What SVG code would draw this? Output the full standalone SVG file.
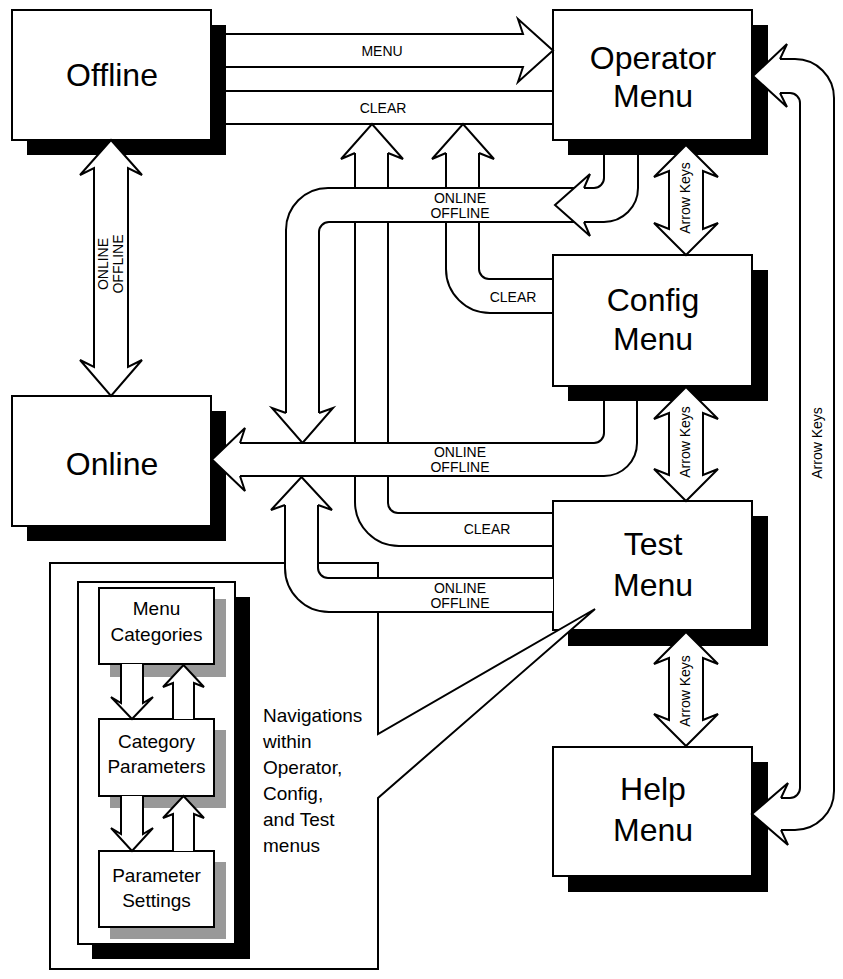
<svg xmlns="http://www.w3.org/2000/svg" width="843" height="979" viewBox="0 0 843 979">
<style>
.bx{fill:#fff;stroke:#000;stroke-width:2}
.sh{fill:#000}
.gs{fill:#999}
.ln{fill:none;stroke:#000;stroke-width:2}
.wf{fill:#fff;stroke:none}
.hd{fill:#fff;stroke:#000;stroke-width:2;stroke-linejoin:miter}
.big{font-family:"Liberation Sans",Arial,sans-serif;font-size:32px;text-anchor:middle;fill:#000}
.mid{font-family:"Liberation Sans",Arial,sans-serif;font-size:19px;text-anchor:middle;fill:#000}
.nav{font-family:"Liberation Sans",Arial,sans-serif;font-size:19px;fill:#000}
.lb{font-family:"Liberation Sans",Arial,sans-serif;font-size:14px;text-anchor:middle;fill:#000}
</style>
<rect width="843" height="979" fill="#fff"/>

<g id="offline">
<rect class="sh" x="27" y="25" width="199" height="130"/>
<rect class="bx" x="12" y="10" width="199" height="130"/>
<text class="big" x="112" y="86">Offline</text>
</g>
<g id="online">
<rect class="sh" x="27" y="411" width="199" height="130"/>
<rect class="bx" x="12" y="396" width="199" height="130"/>
<text class="big" x="112" y="475">Online</text>
</g>
<g id="operator">
<rect class="sh" x="568" y="25" width="200" height="130"/>
<rect class="bx" x="553" y="10" width="199" height="130"/>
<text class="big" x="653" y="69">Operator</text>
<text class="big" x="653" y="107">Menu</text>
</g>
<g id="config">
<rect class="sh" x="568" y="270" width="200" height="131"/>
<rect class="bx" x="553" y="255" width="199" height="131"/>
<text class="big" x="653" y="311">Config</text>
<text class="big" x="653" y="350">Menu</text>
</g>
<g id="test">
<rect class="sh" x="568" y="516" width="200" height="130"/>
<rect class="bx" x="553" y="501" width="199" height="129"/>
<text class="big" x="653" y="555">Test</text>
<text class="big" x="653" y="596">Menu</text>
</g>
<g id="help">
<rect class="sh" x="568" y="762" width="200" height="130"/>
<rect class="bx" x="553" y="747" width="199" height="129"/>
<text class="big" x="653" y="800">Help</text>
<text class="big" x="653" y="841">Menu</text>
</g>

<g id="inset">
<path class="bx" d="M50,563 H378 V734 L595,609 L378,798 V969 H50 Z"/>
<rect class="sh" x="92" y="597" width="158" height="362"/>
<rect class="bx" x="78" y="582" width="157" height="362"/>
<g id="menu-categories">
<rect class="gs" x="110" y="599" width="116" height="78"/>
<rect class="bx" x="99" y="588" width="115" height="76"/>
<text class="mid" x="156.5" y="615">Menu</text>
<text class="mid" x="156.5" y="641">Categories</text>
</g>
<g id="category-parameters">
<rect class="gs" x="110" y="730" width="116" height="78"/>
<rect class="bx" x="99" y="719" width="115" height="77"/>
<text class="mid" x="156.5" y="748">Category</text>
<text class="mid" x="156.5" y="773">Parameters</text>
</g>
<g id="parameter-settings">
<rect class="gs" x="110" y="862" width="116" height="77"/>
<rect class="bx" x="99" y="851" width="115" height="76"/>
<text class="mid" x="156.5" y="882">Parameter</text>
<text class="mid" x="156.5" y="907">Settings</text>
</g>
<g id="inset-arrows">
<path class="hd" d="M121,664 V703 L111,697 L132,719 L153,697 L143,703 V664"/>
<path class="hd" d="M173,719 V683 L163,687 L183.5,665 L204,687 L194,683 V719"/>
<path class="hd" d="M121,796 V834 L111,828 L132,851 L153,828 L143,834 V796"/>
<path class="hd" d="M173,851 V814 L163,818 L183.5,796 L204,818 L194,814 V851"/>
</g>
<text class="nav" x="263" y="722">Navigations</text>
<text class="nav" x="263" y="748">within</text>
<text class="nav" x="263" y="774">Operator,</text>
<text class="nav" x="263" y="800">Config,</text>
<text class="nav" x="263" y="826">and Test</text>
<text class="nav" x="263" y="852">menus</text>
</g>

<g id="connectors">
<!-- MENU -->
<path class="hd" d="M226,34 H523 L518,19 L553,50.5 L518,82 L523,67 H226"/>
<text class="lb" x="382" y="56">MENU</text>
<!-- CLEAR top band -->
<path class="ln" d="M226,91 H553 M226,124 H553"/>
<text class="lb" x="383" y="113">CLEAR</text>
<!-- CLEAR from Test -->
<path class="ln" d="M355,153 V502 A44,44 0 0 0 399,546 H553 M388,153 V503 A10,10 0 0 0 398,513 H553"/>
<path class="hd" d="M355,153 L341,159 L372,124 L403,159 L388,153"/>
<text class="lb" x="487" y="534">CLEAR</text>
<!-- CLEAR from Config -->
<path class="ln" d="M446,153 V269 A44,44 0 0 0 490,313 H553 M479,153 V269 A10,10 0 0 0 489,279 H553"/>
<path class="hd" d="M446,153 L432,159 L463,124 L494,159 L479,153"/>
<text class="lb" x="513" y="302">CLEAR</text>
<!-- Offline <-> Online -->
<path class="hd" d="M111,140 L142,175 L128,168 V367 L142,360 L111,396 L80,360 L94,367 V168 L80,175 Z"/>
<text class="lb" transform="translate(108,264) rotate(-90)">ONLINE</text>
<text class="lb" transform="translate(123,264) rotate(-90)">OFFLINE</text>
<!-- Operator -> Online band -->
<path class="wf" d="M286,413 V230 A42,42 0 0 1 328,188 H594 A10,10 0 0 0 604,178 V155 H638 V188 A34,34 0 0 1 604,222 H329 A10,10 0 0 0 319,232 V413 Z"/>
<path class="ln" d="M286,413 V230 A42,42 0 0 1 328,188 H594 A10,10 0 0 0 604,178 V155 M319,413 V232 A10,10 0 0 1 329,222 H604 A34,34 0 0 0 638,188 V155"/>
<path class="hd" d="M584,188 L590,174 L555,205 L590,236 L584,222"/>
<path class="hd" d="M286,413 L272,408 L302.5,443 L333,408 L319,413"/>
<text class="lb" x="460" y="203">ONLINE</text>
<text class="lb" x="460" y="217.5">OFFLINE</text>
<!-- Config -> Online band -->
<path class="wf" d="M240,443 H594 A10,10 0 0 0 604,433 V401 H637 V443 A33,33 0 0 1 604,476 H240 Z"/>
<path class="ln" d="M240,443 H594 A10,10 0 0 0 604,433 V401 M240,476 H604 A33,33 0 0 0 637,443 V401"/>
<path class="hd" d="M240,443 L245,428 L212,459.5 L245,491 L240,476"/>
<text class="lb" x="460" y="457">ONLINE</text>
<text class="lb" x="460" y="472">OFFLINE</text>
<!-- Test -> Online band -->
<path class="wf" d="M285,505 V568 A44,44 0 0 0 329,612 H553 V578 H328 A10,10 0 0 1 318,568 V505 Z"/>
<path class="ln" d="M285,505 V568 A44,44 0 0 0 329,612 H553 M318,505 V568 A10,10 0 0 0 328,578 H553"/>
<path class="hd" d="M285,505 L271,510 L301.5,477 L332,510 L318,505"/>
<text class="lb" x="460" y="593">ONLINE</text>
<text class="lb" x="460" y="608">OFFLINE</text>
<!-- Arrow Keys Operator <-> Config -->
<path class="hd" d="M686,145 L718,177 L703,171 V229 L718,223 L686,255 L654,223 L669,229 V171 L654,177 Z"/>
<text class="lb" transform="translate(690,198) rotate(-90)">Arrow Keys</text>
<!-- Arrow Keys Config <-> Test -->
<path class="hd" d="M686,387 L718,419 L703,413 V475 L718,469 L686,501 L654,469 L669,475 V413 L654,419 Z"/>
<text class="lb" transform="translate(690,442) rotate(-90)">Arrow Keys</text>
<!-- Arrow Keys Test <-> Help -->
<path class="hd" d="M686,632 L718,664 L703,658 V720 L718,714 L686,746 L654,714 L669,720 V658 L654,664 Z"/>
<text class="lb" transform="translate(690,691) rotate(-90)">Arrow Keys</text>
<!-- Help <-> Operator loop -->
<path class="wf" d="M780,59 H795 A39,39 0 0 1 834,98 V791 A39,39 0 0 1 795,830 H781 V798 H790 A10,10 0 0 0 800,788 V103 A10,10 0 0 0 790,93 H780 Z"/>
<path class="ln" d="M780,59 H795 A39,39 0 0 1 834,98 V791 A39,39 0 0 1 795,830 H781 M780,93 H790 A10,10 0 0 1 800,103 V788 A10,10 0 0 1 790,798 H781"/>
<path class="hd" d="M780,59 L787,44 L753,76 L787,107 L780,93"/>
<path class="hd" d="M781,798 L788,783 L752,814 L788,845 L781,830"/>
<text class="lb" transform="translate(822,443) rotate(-90)">Arrow Keys</text>
</g>
</svg>
